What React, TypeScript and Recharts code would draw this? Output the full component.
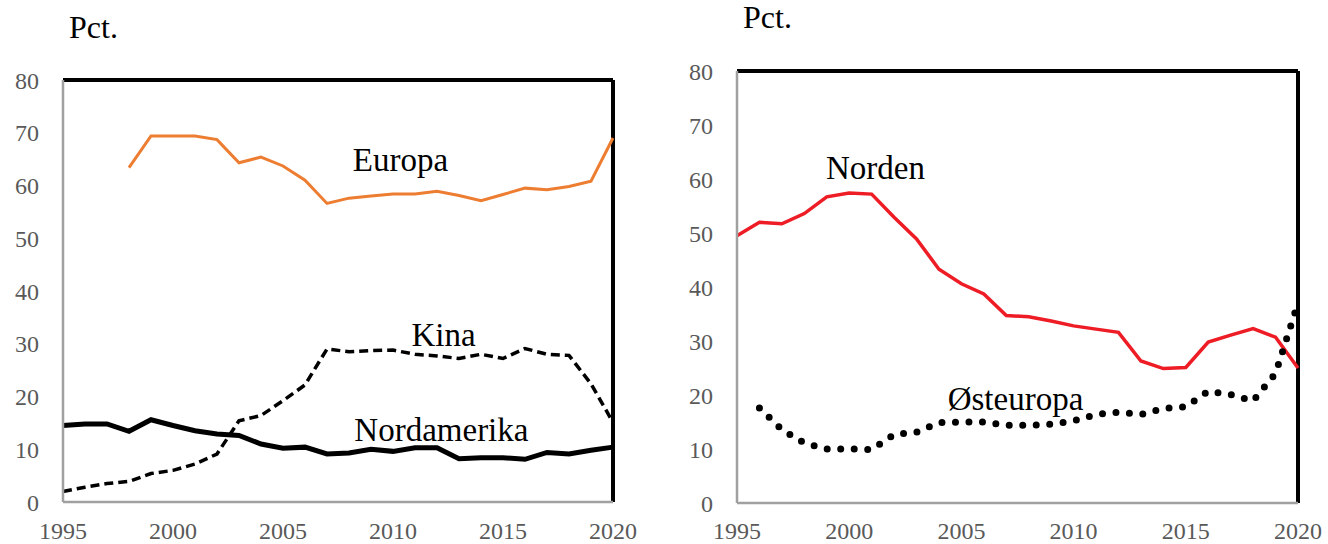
import { LineChart, Line, XAxis, YAxis, ReferenceLine, ReferenceDot } from 'recharts'

const years = [1995, 1996, 1997, 1998, 1999, 2000, 2001, 2002, 2003, 2004, 2005, 2006, 2007,
  2008, 2009, 2010, 2011, 2012, 2013, 2014, 2015, 2016, 2017, 2018, 2019, 2020]

// venstre figur
const europa = [null, null, null, 63.4, 69.4, 69.4, 69.4, 68.7, 64.3, 65.4, 63.7, 61.0, 56.6,
  57.6, 58.0, 58.4, 58.4, 58.9, 58.1, 57.1, 58.3, 59.5, 59.2, 59.8, 60.8, 69.0]
const kina = [2.0, 2.8, 3.5, 3.9, 5.4, 6.0, 7.2, 9.1, 15.4, 16.4, 19.2, 22.2, 29.0,
  28.5, 28.7, 28.8, 28.0, 27.7, 27.2, 28.0, 27.2, 29.1, 28.0, 27.8, 22.4, 15.1]
const nordamerika = [14.5, 14.8, 14.8, 13.4, 15.6, 14.5, 13.5, 12.9, 12.6, 11.0, 10.2, 10.4, 9.1,
  9.3, 10.0, 9.6, 10.3, 10.3, 8.2, 8.4, 8.4, 8.1, 9.4, 9.1, 9.8, 10.4]

// højre figur
const norden = [49.5, 52.0, 51.7, 53.6, 56.7, 57.4, 57.2, 52.9, 48.9, 43.3, 40.6, 38.7, 34.7,
  34.5, 33.7, 32.8, 32.2, 31.6, 26.3, 24.9, 25.1, 29.8, 31.1, 32.3, 30.7, 25.0]
const osteuropa = [null, 17.6, 13.6, 11.1, 10.0, 10.0, 9.9, 12.7, 13.1, 14.9, 15.0, 15.0, 14.4,
  14.4, 14.6, 15.2, 16.4, 16.8, 16.4, 17.5, 17.8, 20.7, 20.1, 18.9, 24.0, 37.0]

const yTicks = [0, 10, 20, 30, 40, 50, 60, 70, 80]
const xTicks = [1995, 2000, 2005, 2010, 2015, 2020]

const leftData = years.map((y, i) => ({ year: y, europa: europa[i], kina: kina[i], nordamerika: nordamerika[i] }))
const rightData = years.map((y, i) => ({ year: y, norden: norden[i], osteuropa: osteuropa[i] }))

const FONT = '"Liberation Serif", "Times New Roman", serif'
const tickStyle = { fill: '#595959', fontSize: 24, fontFamily: 'Liberation Serif' }
const axisLine = { stroke: '#a0a0a0', strokeWidth: 2.5 }
const labelStyle = { fontSize: 33, fill: '#000', fontFamily: 'Liberation Serif' }

export default function App() {
  return (
    <div style={{ position: 'absolute', left: 0, top: 0, width: 1328, height: 544, background: '#fff', fontFamily: FONT }}>
      <style>{`.recharts-wrapper, .recharts-wrapper text { font-family: ${FONT} !important; }`}</style>
      <div style={{ position: 'absolute', left: 69, top: 11, fontSize: 32, lineHeight: '32px', color: '#000' }}>Pct.</div>
      <div style={{ position: 'absolute', left: 743, top: 1, fontSize: 32, lineHeight: '32px', color: '#000' }}>Pct.</div>

      <div style={{ position: 'absolute', left: 0, top: 0 }}>
        <LineChart width={660} height={544} data={leftData} margin={{ top: 80, right: 47, bottom: 0, left: 0 }}>
          <XAxis dataKey="year" type="number" domain={[1995, 2020]} ticks={xTicks} height={42}
            tickLine={false} tickSize={0} tickMargin={20} tick={tickStyle} axisLine={axisLine} interval={0} />
          <YAxis type="number" domain={[0, 80]} ticks={yTicks} width={63}
            tickLine={false} tickSize={0} tickMargin={24} tick={tickStyle} axisLine={axisLine} interval={0} />
          <ReferenceLine y={80} stroke="#000" strokeWidth={4} />
          <ReferenceLine x={2020} stroke="#000" strokeWidth={4} />
          <Line dataKey="europa" stroke="#ED7D31" strokeWidth={3} dot={false} isAnimationActive={false} />
          <Line dataKey="kina" stroke="#000" strokeWidth={3.5} strokeDasharray="9 5" dot={false} isAnimationActive={false} />
          <Line dataKey="nordamerika" stroke="#000" strokeWidth={5} dot={false} isAnimationActive={false} />
          <ReferenceDot x={2010.34} y={65.0} r={0} stroke="none" label={{ value: 'Europa', position: 'center', ...labelStyle }} />
          <ReferenceDot x={2012.3} y={31.7} r={0} stroke="none" label={{ value: 'Kina', position: 'center', ...labelStyle }} />
          <ReferenceDot x={2012.2} y={13.8} r={0} stroke="none" label={{ value: 'Nordamerika', position: 'center', ...labelStyle }} />
        </LineChart>
      </div>

      <div style={{ position: 'absolute', left: 670, top: 0 }}>
        <LineChart width={658} height={544} data={rightData} margin={{ top: 71, right: 30, bottom: 0, left: 0 }}>
          <XAxis dataKey="year" type="number" domain={[1995, 2020]} ticks={xTicks} height={41}
            tickLine={false} tickSize={0} tickMargin={19} tick={tickStyle} axisLine={axisLine} interval={0} />
          <YAxis type="number" domain={[0, 80]} ticks={yTicks} width={67}
            tickLine={false} tickSize={0} tickMargin={24} tick={tickStyle} axisLine={axisLine} interval={0} />
          <ReferenceLine y={80} stroke="#000" strokeWidth={4} />
          <ReferenceLine x={2020} stroke="#000" strokeWidth={4} />
          <Line dataKey="norden" stroke="#EE1C25" strokeWidth={3.5} dot={false} isAnimationActive={false} />
          <Line dataKey="osteuropa" stroke="#000" strokeWidth={7} strokeDasharray="0 13.5" strokeLinecap="round" dot={false} isAnimationActive={false} />
          <ReferenceDot x={2001.17} y={62.2} r={0} stroke="none" label={{ value: 'Norden', position: 'center', ...labelStyle }} />
          <ReferenceDot x={2007.41} y={19.4} r={0} stroke="none" label={{ value: 'Østeuropa', position: 'center', ...labelStyle }} />
        </LineChart>
      </div>
    </div>
  )
}
